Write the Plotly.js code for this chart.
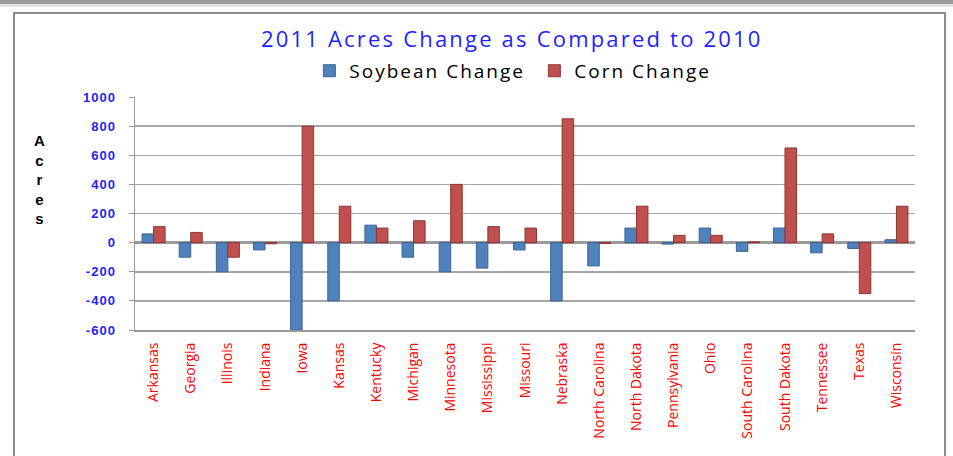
<!DOCTYPE html>
<html>
<head>
<meta charset="utf-8">
<script src="https://cdn.plot.ly/plotly-3.0.1.min.js"></script>
<style>
  html, body { margin: 0; padding: 0; background: #ffffff; }
  #wrap { position: relative; width: 953px; height: 456px; overflow: hidden; }
  #topline { position: absolute; left: 0; top: 0; width: 953px; height: 4px; background: #9a9a9a; }
  #topline2 { position: absolute; left: 0; top: 4px; width: 953px; height: 3px; background: #e4e4e4; }
  #frame { position: absolute; left: 13px; top: 12px; width: 933px; height: 460px; border: 2px solid #8c8c8c; box-sizing: border-box; }
  #chart { position: absolute; left: 0; top: 0; width: 953px; height: 456px; }
</style>
</head>
<body>
<div id="wrap">
  <div id="topline"></div>
  <div id="topline2"></div>
  <div id="frame"></div>
  <div id="chart"></div>
</div>
<script>
const states = ["Arkansas","Georgia","Illinois","Indiana","Iowa","Kansas","Kentucky","Michigan","Minnesota","Mississippi","Missouri","Nebraska","North Carolina","North Dakota","Pennsylvania","Ohio","South Carolina","South Dakota","Tennessee","Texas","Wisconsin"];
const soybeanChange = [60, -100, -200, -50, -600, -400, 120, -100, -200, -175, -50, -400, -160, 100, -10, 100, -60, 100, -70, -40, 20];
const cornChange = [110, 70, -100, -8, 800, 250, 100, 150, 400, 110, 100, 850, -5, 250, 50, 50, 5, 650, 60, -350, 250];
const yTicks = [-600, -400, -200, 0, 200, 400, 600, 800, 1000];

const traces = [
  { type: "bar", name: "Soybean Change", x: states, y: soybeanChange,
    marker: { color: "#4f81bd", line: { color: "#3a6496", width: 1 } } },
  { type: "bar", name: "Corn Change", x: states, y: cornChange,
    marker: { color: "#c0504d", line: { color: "#8e3533", width: 1 } } }
];

const layout = {
  width: 953, height: 456,
  paper_bgcolor: "rgba(0,0,0,0)", plot_bgcolor: "rgba(0,0,0,0)",
  margin: { l: 135, r: 38, t: 97, b: 126 },
  barmode: "group", bargap: 0.38, bargroupgap: 0,
  title: { text: "2011 Acres Change as Compared to 2010", x: 0.537, xanchor: "center", y: 0.913, yanchor: "middle",
           font: { family: "Open Sans, sans-serif", size: 22, color: "#1f1fff" } },
  showlegend: true,
  legend: { orientation: "h", x: 0.512, xanchor: "center", y: 1.112, yanchor: "middle",
            font: { family: "Open Sans, sans-serif", size: 19, color: "#000000" },
            entrywidth: 180, entrywidthmode: "pixels", traceorder: "normal" },
  xaxis: {
    type: "category", tickangle: -90, showgrid: false, showline: true, linecolor: "#9a9a9a", linewidth: 2,
    ticks: "", ticklabelstandoff: 5,
    tickfont: { family: "Open Sans, sans-serif", size: 14, color: "#ff0000" }, automargin: false
  },
  yaxis: {
    range: [-600, 1000], tickvals: yTicks, ticktext: yTicks.map(String),
    showgrid: true, gridcolor: "#a6a6a6", gridwidth: 1.5,
    zeroline: true, zerolinecolor: "#9a9a9a", zerolinewidth: 3,
    showline: true, linecolor: "#9a9a9a", linewidth: 1.5,
    ticks: "outside", ticklen: 5, tickcolor: "#9a9a9a", ticklabelstandoff: 10,
    tickfont: { family: "Liberation Sans, Arial, sans-serif", size: 13, color: "#1f1fff", weight: "bold" },
    automargin: false
  },
  annotations: [{
    xref: "paper", yref: "paper", x: -0.122, y: 0.648, xanchor: "center", yanchor: "middle",
    text: "<b>A<br>c<br>r<br>e<br>s</b>", showarrow: false, align: "center",
    font: { family: "Liberation Sans, Arial, sans-serif", size: 15, color: "#000000" }
  }]
};

Plotly.newPlot("chart", traces, layout, { displayModeBar: false, staticPlot: true }).then(function (gd) {
  gd.querySelectorAll(".gtitle").forEach(function (t) { t.style.letterSpacing = "2.2px"; });
  gd.querySelectorAll(".legendtext").forEach(function (t) { t.style.letterSpacing = "2px"; });
  gd.querySelectorAll(".ytick text").forEach(function (t) { t.style.letterSpacing = "1px"; });
});
</script>
</body>
</html>
